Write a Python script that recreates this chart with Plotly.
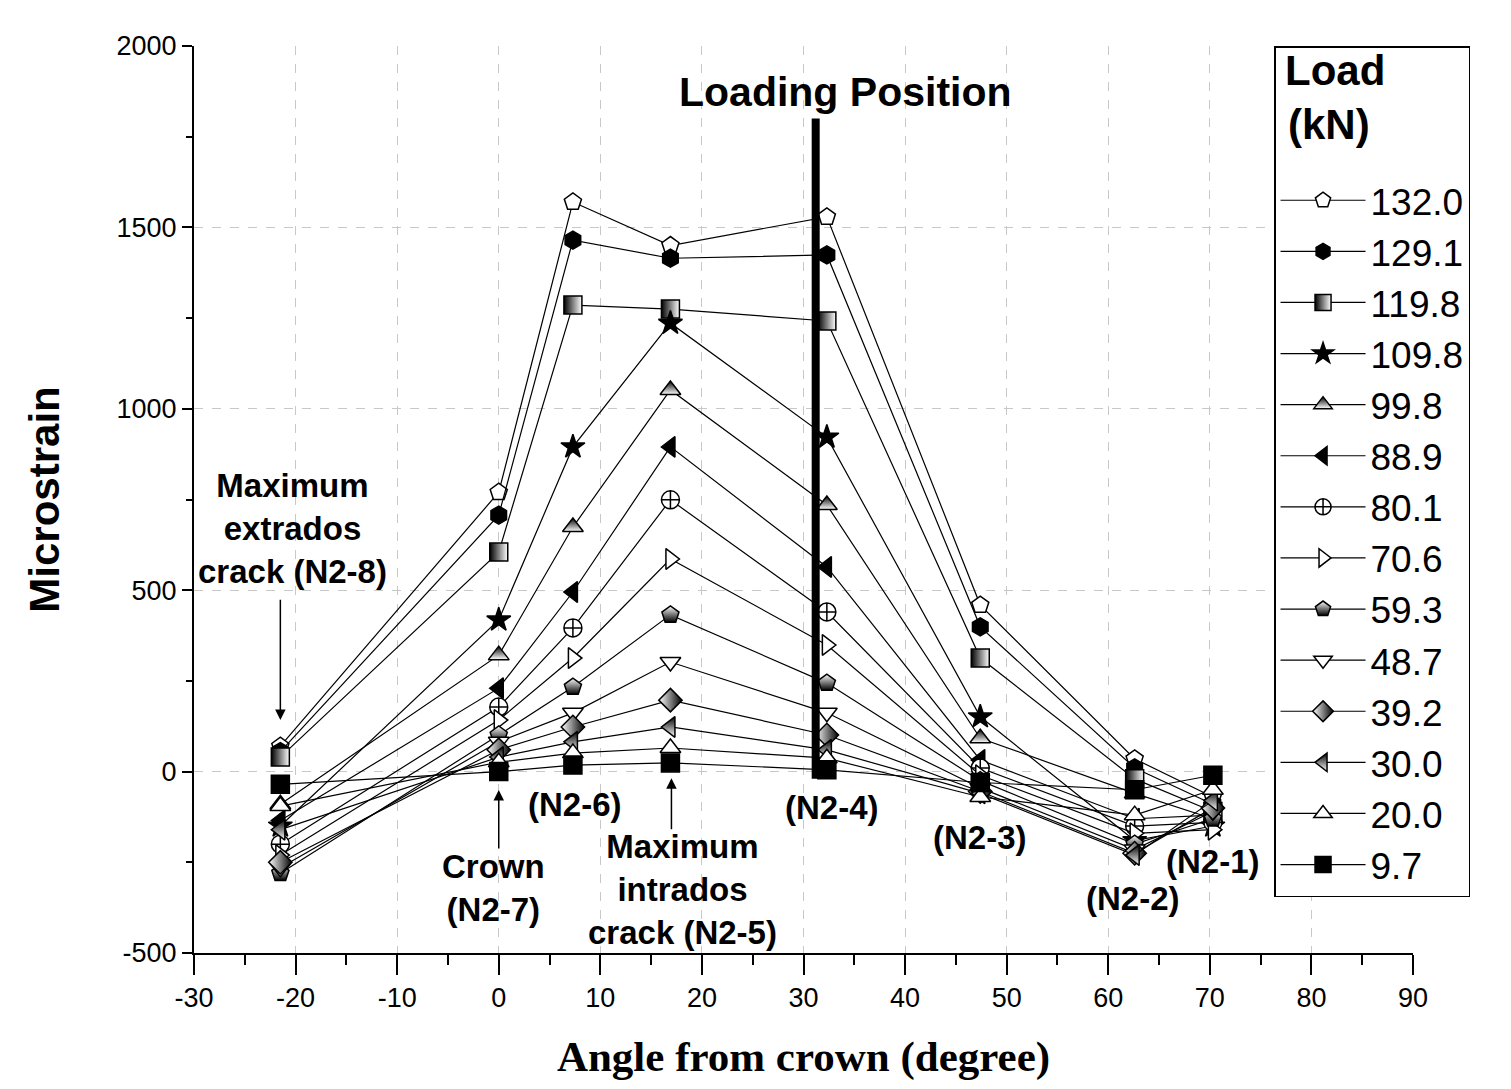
import plotly.graph_objects as go

angles = [-21.5, 0, 7.3, 16.9, 32.3, 47.4, 62.6, 70.3]
loads = ["132.0", "129.1", "119.8", "109.8", "99.8", "88.9", "80.1",
         "70.6", "59.3", "48.7", "39.2", "30.0", "20.0", "9.7"]

s132_0 = [70, 770, 1570, 1450, 1529, 459, 35, -70]
s129_1 = [55, 707, 1465, 1415, 1424, 399, 10, -90]
s119_8 = [40, 605, 1286, 1275, 1242, 313, -20, -110]
s109_8 = [-150, 418, 895, 1236, 922, 151, -190, -150]
s99_8 = [-90, 321, 674, 1052, 735, 92, -60, -130]
s88_9 = [-135, 230, 495, 895, 564, 32, -130, -120]
s80_1 = [-200, 178, 396, 749, 440, 10, -150, -140]
s70_6 = [-230, 142, 313, 586, 349, -10, -170, -160]
s59_3 = [-280, 101, 233, 432, 244, -25, -200, -130]
s48_7 = [-265, 82, 162, 302, 162, -45, -215, -110]
s39_2 = [-250, 60, 123, 197, 101, -55, -225, -100]
s30_0 = [-160, 40, 82, 123, 60, -60, -230, -80]
s20_0 = [-95, 26, 51, 65, 37, -70, -120, -50]
s9_7 = [-35, 0, 18, 24, 5, -30, -50, -10]

series = [s132_0, s129_1, s119_8, s109_8, s99_8, s88_9, s80_1,
          s70_6, s59_3, s48_7, s39_2, s30_0, s20_0, s9_7]

x_ticks = [-30, -20, -10, 0, 10, 20, 30, 40, 50, 60, 70, 80, 90]
x_ticklabels = ["-30", "-20", "-10", "0", "10", "20", "30", "40", "50",
                "60", "70", "80", "90"]
y_ticks = [-500, 0, 500, 1000, 1500, 2000]
y_ticklabels = ["-500", "0", "500", "1000", "1500", "2000"]

# (symbol, fill colour, gradient type, gradient colour)
styles = [
    ("pentagon", "white", None, None),
    ("hexagon", "black", None, None),
    ("square", "black", "horizontal", "white"),
    ("star", "black", None, None),
    ("triangle-up", "black", "vertical", "white"),
    ("triangle-left", "black", None, None),
    ("circle-cross", "white", None, None),
    ("triangle-right", "white", None, None),
    ("pentagon", "white", "vertical", "black"),
    ("triangle-down", "white", None, None),
    ("diamond", "white", "horizontal", "black"),
    ("triangle-left", "black", "vertical", "white"),
    ("triangle-up", "white", None, None),
    ("square", "black", None, None),
]

fig = go.Figure()
for name, vals, (sym, col, gt, gc) in zip(loads, series, styles):
    marker = dict(symbol=sym, size=18, color=col,
                  line=dict(color="black", width=1.5))
    if gt:
        marker["gradient"] = dict(type=gt, color=gc)
    fig.add_trace(go.Scatter(
        x=angles, y=vals, name=name, mode="lines+markers",
        line=dict(color="black", width=1.2), marker=marker,
    ))

# Loading position line
fig.add_shape(type="line", x0=31.2, x1=31.2, y0=-20, y1=1800,
              xref="x", yref="y", line=dict(color="black", width=8))

afont = dict(family="Liberation Sans, Arial", size=33, color="black")
texts = [
    ("<b>Loading Position</b>", 34.1, 1873, 41),
    ("<b>Maximum<br>extrados<br>crack (N2-8)</b>", -20.3, 671, 33),
    ("<b>(N2-6)</b>", 7.5, -92, 33),
    ("<b>Crown<br>(N2-7)</b>", -0.5, -320, 33),
    ("<b>Maximum<br>intrados<br>crack (N2-5)</b>", 18.1, -326, 33),
    ("<b>(N2-4)</b>", 32.8, -100, 33),
    ("<b>(N2-3)</b>", 47.4, -183, 33),
    ("<b>(N2-2)</b>", 62.4, -349, 33),
    ("<b>(N2-1)</b>", 70.3, -247, 33),
]
for t, x, y, fs in texts:
    fig.add_annotation(x=x, y=y, text=t, showarrow=False,
                       font=dict(afont, size=fs), xref="x", yref="y")

# legend heading drawn as text over the reserved legend-title space
fig.add_annotation(x=0.893, y=0.9735, xref="paper", yref="paper",
                   xanchor="left", yanchor="middle", showarrow=False,
                   text="<b>Load</b>", font=dict(afont, size=42))
fig.add_annotation(x=0.896, y=0.9129, xref="paper", yref="paper",
                   xanchor="left", yanchor="middle", showarrow=False,
                   text="<b>(kN)</b>", font=dict(afont, size=42))

arrows = [(-21.5, 142, -21.5, 478), (0, -51, 0, -216), (17.0, -18, 17.0, -163)]
for x, y, ax, ay in arrows:
    fig.add_annotation(x=x, y=y, ax=ax, ay=ay, xref="x", yref="y",
                       axref="x", ayref="y", text="", showarrow=True,
                       arrowhead=2, arrowsize=1.4, arrowwidth=1.5,
                       arrowcolor="black")

axis_common = dict(
    showline=True, linecolor="black", linewidth=2,
    ticks="outside", tickwidth=2, tickcolor="black",
    showgrid=True, gridcolor="#c8c8c8", griddash="dash", gridwidth=1,
    zeroline=False, mirror=False, automargin=False,
    tickfont=dict(family="Liberation Sans, Arial", size=27, color="black"),
)

fig.update_xaxes(
    range=[-30, 90], tickmode="array", tickvals=x_ticks,
    ticktext=x_ticklabels, ticklen=20,
    minor=dict(dtick=5, tick0=-30, ticks="outside", ticklen=10, tickwidth=2,
               tickcolor="black", showgrid=False),
    title=dict(text="<b>Angle from crown (degree)</b>", standoff=30,
               font=dict(family="Liberation Serif, Times New Roman", size=43,
                         color="black")),
    **axis_common,
)
fig.update_yaxes(
    range=[-500, 2000], tickmode="array", tickvals=y_ticks,
    ticktext=y_ticklabels, ticklen=10,
    minor=dict(dtick=250, tick0=0, ticks="outside", ticklen=6, tickwidth=2,
               tickcolor="black", showgrid=False),
    title=dict(text="<b>Microstrain</b>", standoff=44,
               font=dict(family="Liberation Sans, Arial", size=42,
                         color="black")),
    **axis_common,
)

fig.update_layout(
    width=1495, height=1073,
    margin=dict(l=186, r=90, t=38, b=128),
    paper_bgcolor="white", plot_bgcolor="white",
    showlegend=True,
    legend=dict(
        x=0.886, y=1.0, xanchor="left", yanchor="top",
        bgcolor="white", bordercolor="black", borderwidth=1.5,
        font=dict(family="Liberation Sans, Arial", size=37, color="black"),
        title=dict(text="&nbsp;<br>&nbsp;",
                   font=dict(family="Liberation Sans, Arial", size=47,
                             color="black")),
        itemwidth=85, tracegroupgap=0,
    ),
)

fig.write_html("out.html")
